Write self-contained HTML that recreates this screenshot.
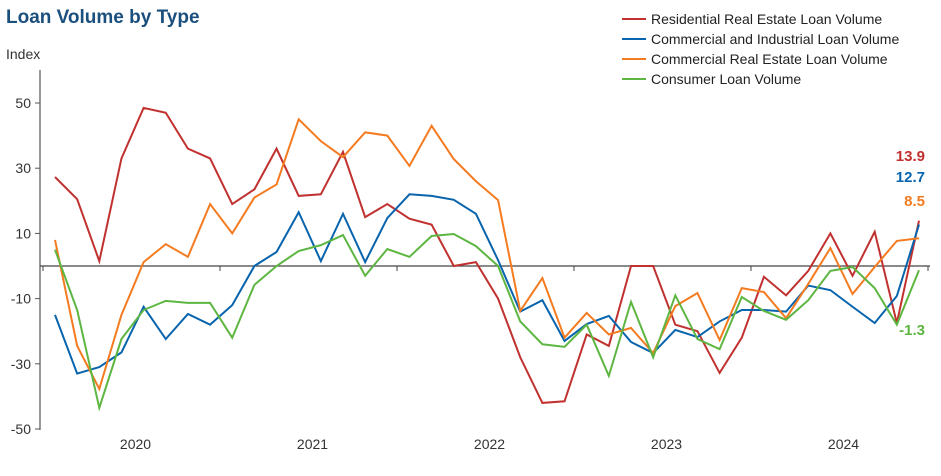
<!DOCTYPE html>
<html><head><meta charset="utf-8"><style>
body{margin:0;background:#fff;font-family:"Liberation Sans",Arial,sans-serif}
svg text{font-family:"Liberation Sans",Arial,sans-serif}
</style></head><body>
<svg id="c" width="941" height="471" xmlns="http://www.w3.org/2000/svg">
<text x="6" y="23" font-size="19" font-weight="bold" fill="#1b4f7e">Loan Volume by Type</text>
<text x="6" y="59" font-size="14" fill="#333">Index</text>
<g id="axes"></g><g id="series"></g><g id="legend"></g>
</svg>
<script>
const years=["2020","2021","2022","2023","2024"];
const yTicks=[50,30,10,-10,-30,-50];
const names=["Residential Real Estate Loan Volume","Commercial and Industrial Loan Volume","Commercial Real Estate Loan Volume","Consumer Loan Volume"];
const colors=["#c0312f","#0864ad","#f47b20","#5db641"];
const residential=[27.3,20.5,1.5,33,48.5,47,36,33,19,23.5,36,21.5,22,35,15,19,14.5,12.7,0,1.2,-10,-28,-42,-41.5,-21,-24.5,0,0,-18,-20,-32.8,-22,-3.3,-9,-1.5,10,-3,10.5,-17.5,13.9];
const commercialIndustrial=[-15,-33,-31,-26.5,-12.5,-22.4,-14.7,-18,-12,0,4.3,16.5,1.5,16,1.2,14.7,22,21.5,20.3,16,1.8,-14,-10.5,-23,-17.8,-15.3,-23.3,-26.7,-19.6,-21.8,-17,-13.5,-13.5,-14,-6,-7.4,-12.5,-17.5,-9.2,12.7];
const commercialRE=[8,-24.5,-37.7,-15,1.2,6.7,2.8,19,10,21,25,45,38.3,33.4,41,40,30.7,43,32.8,26,20.2,-13.8,-3.7,-22,-14.4,-21,-19,-26.7,-12.3,-8.3,-22.7,-6.8,-8,-16,-5.5,5.5,-8.6,-0.3,7.7,8.5];
const consumer=[5,-13.5,-43.5,-22.4,-13.5,-10.7,-11.3,-11.3,-22,-5.8,0,4.6,6.4,9.5,-3,5.2,2.8,9.2,9.8,6.1,0,-17,-24,-24.8,-18,-33.7,-11,-28,-9,-22.4,-25.5,-9.5,-13.8,-16.5,-10.5,-1.5,-0.3,-6.8,-18,-1.3];
const lastLabels=["13.9","12.7","8.5","-1.3"];
const seriesData=[residential,commercialIndustrial,commercialRE,consumer];
const NS="http://www.w3.org/2000/svg";
const x0=55,x1=919,n=residential.length;
function xs(i){return x0+(x1-x0)*i/(n-1);}
function ys(v){return 266-v*3.26;}
function mk(tag,attrs,parent){const e=document.createElementNS(NS,tag);for(const k in attrs)e.setAttribute(k,attrs[k]);parent.appendChild(e);return e;}
const ax=document.getElementById('axes');
let l=mk('line',{x1:40,y1:70,x2:40,y2:430,stroke:'#555','stroke-width':1.2},ax);


yTicks.forEach(v=>{
 const t=mk('line',{x1:35,x2:40,y1:ys(v),y2:ys(v),stroke:'#555'},ax);
 
 
 const tx=mk('text',{x:31,y:ys(v)+5,'text-anchor':'end','font-size':14,fill:'#333'},ax);tx.textContent=v;
 
 
});
l=mk('line',{x1:40,y1:ys(0),x2:930,y2:ys(0),stroke:'#444','stroke-width':1.2},ax);


const yw=177,yb=43;
for(let k=0;k<=years.length;k++){
 const t=mk('line',{x1:yb+yw*k,x2:yb+yw*k,y1:ys(0),y2:ys(0)+5,stroke:'#444'},ax);
 
 
}
years.forEach((y,k)=>{
 const tx=mk('text',{x:yb+yw*k+yw/2+4,y:449,'text-anchor':'middle','font-size':14,fill:'#333'},ax);tx.textContent=y;
 
 
});
const sg=document.getElementById('series');
const labY=[161,182,206,335];
seriesData.forEach((d,s)=>{
 const p=mk('polyline',{points:d.map((v,i)=>xs(i)+','+ys(v)).join(' '),fill:'none',stroke:colors[s],'stroke-width':2,'stroke-linejoin':'miter'},sg);
 
 
 const tx=mk('text',{x:925,y:labY[s],'text-anchor':'end','font-size':15,'font-weight':'bold',fill:colors[s]},sg);tx.textContent=lastLabels[s];
 
 
});
const lg=document.getElementById('legend');
names.forEach((nm,s)=>{
 const y=19+s*20;
 const ln=mk('line',{x1:622,x2:646,y1:y,y2:y,stroke:colors[s],'stroke-width':2},lg);
 
 
 const tx=mk('text',{x:651,y:y+5,'font-size':14,fill:'#222'},lg);tx.textContent=nm;
 
 
});
</script>
</body></html>
